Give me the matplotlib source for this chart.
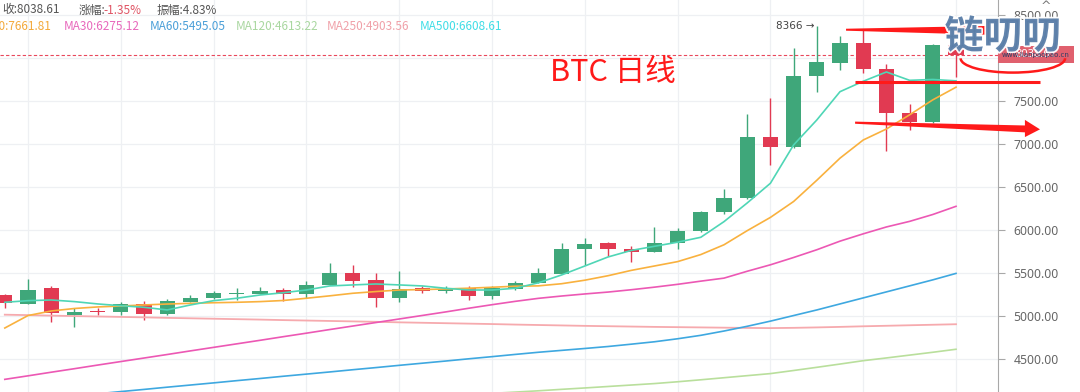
import numpy as np
import matplotlib
matplotlib.use("Agg")
import matplotlib.pyplot as plt
from matplotlib.patches import Polygon, Arc, Rectangle
from matplotlib.transforms import blended_transform_factory
import matplotlib.patheffects as pe

plt.rcParams['font.family'] = ['Noto Sans CJK SC', 'DejaVu Sans']

# BTC daily candles, oldest first
opens = [5244, 5139, 5322, 5011, 5055, 5043, 5136, 5023, 5167, 5206,
         5260, 5256, 5302, 5256, 5361, 5497, 5418, 5213, 5329, 5293,
         5322, 5236, 5310, 5388, 5488, 5775, 5845, 5775, 5747, 5845,
         5988, 6213, 6372, 7085, 6969, 7791, 7945, 8177, 7869, 7357,
         7259, 8148.6]
highs = [5252, 5427, 5349, 5093, 5093, 5159, 5175, 5194, 5244, 5292,
         5322, 5333, 5329, 5407, 5613, 5593, 5504, 5523, 5349, 5349,
         5349, 5349, 5410, 5555, 5852, 5904, 5865, 5810, 6031, 6020,
         6224, 6473, 7349, 7532, 8113, 8366, 8260, 8334, 7931, 7465,
         8161, 8177]
lows = [5090, 5134, 4933, 4869, 5011, 5011, 4954, 5016, 5162, 5201,
        5186, 5252, 5175, 5206, 5355, 5341, 5101, 5167, 5264, 5264,
        5180, 5197, 5303, 5380, 5483, 5593, 5698, 5631, 5745, 5775,
        5982, 6185, 6362, 6756, 6958, 7608, 7861, 7822, 6922, 7163,
        7246, 7783]
closes = [5148, 5302, 5031, 5050, 5046, 5136, 5023, 5175, 5206, 5264,
          5268, 5294, 5256, 5361, 5504, 5407, 5213, 5310, 5291, 5308,
          5236, 5329, 5388, 5499, 5775, 5837, 5775, 5744, 5845, 5988,
          6213, 6375, 7085, 6969, 7794, 7950, 8177, 7869, 7357, 7259,
          8148.6, 8038.61]

ma5 = [5159, 5178, 5186, 5167, 5140, 5119, 5101, 5070, 5128, 5178,
       5206, 5244, 5270, 5302, 5349, 5361, 5372, 5361, 5349, 5322,
       5302, 5302, 5322, 5386, 5477, 5581, 5686, 5762, 5810, 5858,
       5915, 6097, 6314, 6543, 6989, 7279, 7608, 7729, 7837, 7740,
       7750, 7734]
ma10 = [4860, 5005, 5058, 5087, 5105, 5116, 5128, 5139, 5147, 5154,
        5159, 5167, 5180, 5206, 5234, 5264, 5284, 5302, 5307, 5314,
        5323, 5334, 5346, 5350, 5375, 5416, 5468, 5530, 5581, 5632,
        5714, 5828, 5992, 6146, 6331, 6578, 6835, 7046, 7174, 7339,
        7513, 7660]
ma30 = [4263, 4304, 4346, 4387, 4429, 4470, 4511, 4552, 4594, 4635,
        4676, 4717, 4759, 4800, 4842, 4883, 4924, 4965, 5006, 5047,
        5090, 5131, 5170, 5205, 5232, 5256, 5278, 5305, 5335, 5368,
        5405, 5440, 5520, 5595, 5680, 5770, 5870, 5955, 6035, 6100,
        6180, 6275]
ma60 = [3994, 4019, 4045, 4070, 4095, 4121, 4146, 4172, 4197, 4222,
        4248, 4273, 4299, 4324, 4349, 4375, 4400, 4426, 4451, 4476,
        4502, 4527, 4553, 4578, 4600, 4622, 4645, 4672, 4700, 4735,
        4775, 4825, 4880, 4940, 5005, 5070, 5140, 5210, 5280, 5350,
        5420, 5495]
ma120 = [np.nan] * 21 + [4100, 4115, 4130, 4147, 4163, 4180, 4197, 4214,
                         4235, 4258, 4282, 4306, 4330, 4366, 4403, 4441,
                         4480, 4512, 4545, 4578, 4613]
ma250 = [5015, 5010, 5004, 4999, 4994, 4989, 4984, 4978, 4973, 4968,
         4963, 4958, 4952, 4947, 4942, 4937, 4932, 4926, 4921, 4916,
         4911, 4906, 4900, 4895, 4890, 4885, 4881, 4877, 4873, 4870,
         4867, 4864, 4861, 4859, 4862, 4867, 4873, 4880, 4886, 4892,
         4898, 4904]

last_close = 8038.61
y_ticks = [4500, 5000, 5500, 6000, 6500, 7000, 7500, 8000, 8500]

GREEN = '#3fa77a'
RED = '#e13a52'
ANNO = '#ff1a1a'

W, H = 1080, 392
fig = plt.figure(figsize=(W / 100, H / 100), dpi=100)
fig.patch.set_facecolor('white')
ax = fig.add_axes([0, 0, 998 / W, 1])


def px(x, y):
    return x / W, 1 - y / H


x = np.arange(len(closes))
o = np.array(opens, float)
c = np.array(closes, float)
h = np.array(highs, float)
l = np.array(lows, float)
cols = np.where(c >= o, GREEN, RED)

# grid
for xv in x[1::4]:
    ax.axvline(xv, color='#eef0f3', lw=0.9, zorder=0)
for yv in y_ticks:
    ax.axhline(yv, color='#eef0f3', lw=0.9, zorder=0)

# candles
ax.vlines(x, l, h, colors=cols, lw=1, zorder=3)
ax.bar(x, np.maximum(np.abs(c - o), 12), bottom=np.minimum(o, c), width=0.66,
       color=cols, linewidth=0, zorder=4)

# moving averages
ax.plot(x, ma250, color='#f6aaae', lw=1.3, zorder=5)
ax.plot(x, ma120, color='#b9df9c', lw=1.2, zorder=5)
ax.plot(x, ma60, color='#3ea8e0', lw=1.2, zorder=5)
ax.plot(x, ma30, color='#ec58b4', lw=1.2, zorder=5)
ax.plot(x, ma10, color='#f9b13e', lw=1.2, zorder=5)
ax.plot(x, ma5, color='#4fd6b6', lw=1.2, zorder=5)

ax.axhline(last_close, color='#e8485c', lw=0.8, ls=(0, (3, 2)), zorder=2)

ax.set_xlim(-0.207, 42.81)
ax.set_ylim(4116, 8674)
for s in ['top', 'left', 'bottom']:
    ax.spines[s].set_visible(False)
ax.spines['right'].set_color('#a8a8a8')
ax.yaxis.tick_right()
ax.set_yticks(y_ticks)
ax.set_yticklabels([f'{v:.2f}' for v in y_ticks], family='Noto Sans')
ax.tick_params(axis='y', length=5, color='#a8a8a8', labelsize=8.8,
               labelcolor='#666666', pad=6)
ax.tick_params(axis='x', length=0, labelbottom=False)

# highest-price marker
ax.text(34.9, 8366, '8366 →', ha='right', va='center', fontsize=7.5,
        color='#444444', family=['DejaVu Sans'], zorder=6)

# current price label on the axis
tr = blended_transform_factory(ax.transAxes, ax.transData)
ax.add_patch(Rectangle((1.0, last_close - 95), 0.076, 190, transform=tr,
                       fc='#e0606e', ec='none', clip_on=False, zorder=6))
ax.text(1.038, last_close, f'{last_close:.2f}', transform=tr, ha='center', va='center',
        fontsize=8, color='white', family='Noto Sans', clip_on=False, zorder=7)

# hand-drawn annotations
ax.text(23.5, 7835, 'BTC 日线', color=ANNO, fontsize=22, ha='left', va='center', zorder=7)
ax.add_patch(Polygon([(36.26, 8340), (42.3, 8372), (42.3, 8270), (36.26, 8317)],
                     closed=True, fc=ANNO, ec='none', clip_on=False, zorder=7))
ax.plot([36.65, 44.6], [7723, 7723], color=ANNO, lw=2.2, solid_capstyle='butt',
        clip_on=False, zorder=7)
ax.add_patch(Polygon([(36.65, 7260), (43.97, 7215), (43.97, 7280), (44.62, 7170),
                      (43.97, 7080), (43.97, 7135), (36.65, 7235)],
                     closed=True, fc=ANNO, ec='none', clip_on=False, zorder=7))
ax.add_patch(Arc((43.45, 7995), 4.5, 330, theta1=165, theta2=40, color=ANNO,
                 lw=1.8, clip_on=False, zorder=8))

# header rows
hdr = dict(fontsize=8.5, va='center')
fig.text(*px(2, 10), '收:8038.61', color='#555555', ha='left', **hdr)
fig.text(*px(79, 10), '涨幅:', color='#555555', ha='left', **hdr)
fig.text(*px(103, 10), '-1.35%', color='#e05565', ha='left', **hdr)
fig.text(*px(157, 10), '振幅:4.83%', color='#555555', ha='left', **hdr)

fig.text(*px(52, 26.5), 'MA10:7661.81', color='#f3a93a', ha='right', **hdr)
fig.text(*px(64, 26.5), 'MA30:6275.12', color='#e868bc', ha='left', **hdr)
fig.text(*px(150, 26.5), 'MA60:5495.05', color='#4a9fd8', ha='left', **hdr)
fig.text(*px(236, 26.5), 'MA120:4613.22', color='#a9d7a0', ha='left', **hdr)
fig.text(*px(327, 26.5), 'MA250:4903.56', color='#f0a0a8', ha='left', **hdr)
fig.text(*px(420, 26.5), 'MA500:6608.61', color='#3fdde6', ha='left', **hdr)

fig.text(*px(1046, 6), '^', color='#777777', fontsize=9, ha='center', va='center',
         family=['DejaVu Sans'])

# watermark
fig.text(*px(1003, 37), '链叨叨', color='#5a7ea8', fontsize=28, weight='bold',
         ha='center', va='center', alpha=0.95,
         path_effects=[pe.withStroke(linewidth=2.5, foreground='white')])
fig.text(*px(1036, 55), 'www.lianpaopao.cn', color='#2c3e66', fontsize=5,
         ha='center', va='center', family=['DejaVu Sans'])

fig.savefig('out.png', dpi=100)
